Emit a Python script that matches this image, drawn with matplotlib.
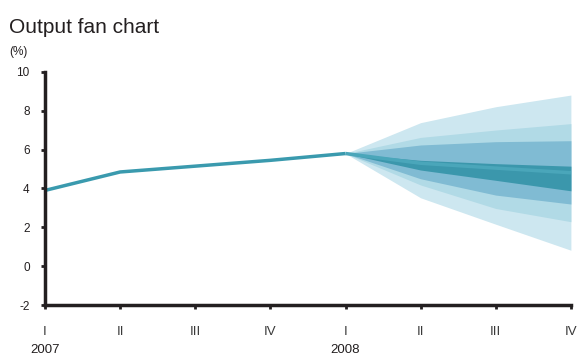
import numpy as np
import matplotlib
matplotlib.use("Agg")
import matplotlib.pyplot as plt
from matplotlib.transforms import blended_transform_factory

plt.rcParams['font.family'] = ['Liberation Sans', 'DejaVu Sans']
plt.rcParams['axes.unicode_minus'] = False

# quarters 2007 I .. 2008 IV
quarters = ["I", "II", "III", "IV", "I", "II", "III", "IV"]
years = ["2007", "", "", "", "2008", "", "", ""]

# outturn
hist = [3.9, 4.85, 5.15, 5.45, 5.8]

# projection bands (2008 I .. 2008 IV)
outer_hi = [5.8, 7.39, 8.21, 8.81]
outer_lo = [5.8, 3.52, 2.16, 0.82]
mid_hi = [5.8, 6.63, 7.01, 7.34]
mid_lo = [5.8, 4.18, 2.97, 2.29]
inner_hi = [5.8, 6.24, 6.41, 6.46]
inner_lo = [5.8, 4.50, 3.66, 3.20]
core_hi = [5.8, 5.45, 5.28, 5.15]
core_lo = [5.8, 4.95, 4.42, 3.88]
central = [5.8, 5.30, 5.05, 4.81]

c_line = '#3a9aae'
fig = plt.figure(figsize=(5.79, 3.58), dpi=100)
ax = fig.add_axes([0.0777, 0.148, 0.9083, 0.651])

xh = np.arange(len(hist))
xf = np.arange(4, 4 + len(central))

ax.fill_between(xf, outer_lo, outer_hi, color='#cde7f0', lw=0)
ax.fill_between(xf, mid_lo, mid_hi, color='#b1dae6', lw=0)
ax.fill_between(xf, inner_lo, inner_hi, color='#80bbd3', lw=0)
ax.fill_between(xf, core_lo, core_hi, color='#3b97ac', lw=0)
ax.plot(xf, central, color='#4aa6ba', lw=2.5, solid_capstyle='butt')
ax.plot(xh, hist, color=c_line, lw=2.5, solid_capstyle='butt', clip_on=False)

ax.set_xlim(0, 7)
ax.set_ylim(-2, 10)
ax.set_yticks(np.arange(-2, 11, 2))
ax.set_xticks(np.arange(len(quarters)))
ax.set_xticklabels(quarters)

for s in ['top', 'right']:
    ax.spines[s].set_visible(False)
for s in ['left', 'bottom']:
    ax.spines[s].set_linewidth(2.5)
    ax.spines[s].set_color('#231f20')

ax.tick_params(axis='y', direction='out', length=3, width=2, color='#231f20',
               labelsize=8.5, pad=8, labelcolor='#231f20')
ax.tick_params(axis='x', direction='out', length=3, width=2, color='#231f20',
               labelsize=9.5, pad=12, labelcolor='#3a3a3a')

trans = blended_transform_factory(ax.transData, fig.transFigure)
for i, y in enumerate(years):
    if y:
        ax.text(i, 1 - 350 / 358, y, transform=trans, ha='center', va='center',
                fontsize=9.5, color='#231f20')

fig.text(9 / 579, 1 - 33 / 358, 'Output fan chart', fontsize=15, va='baseline',
         color='#231f20')
fig.text(9 / 579, 1 - 55 / 358, '(%)', fontsize=8.5, va='baseline', color='#231f20')

fig.savefig('out.png', dpi=100)
